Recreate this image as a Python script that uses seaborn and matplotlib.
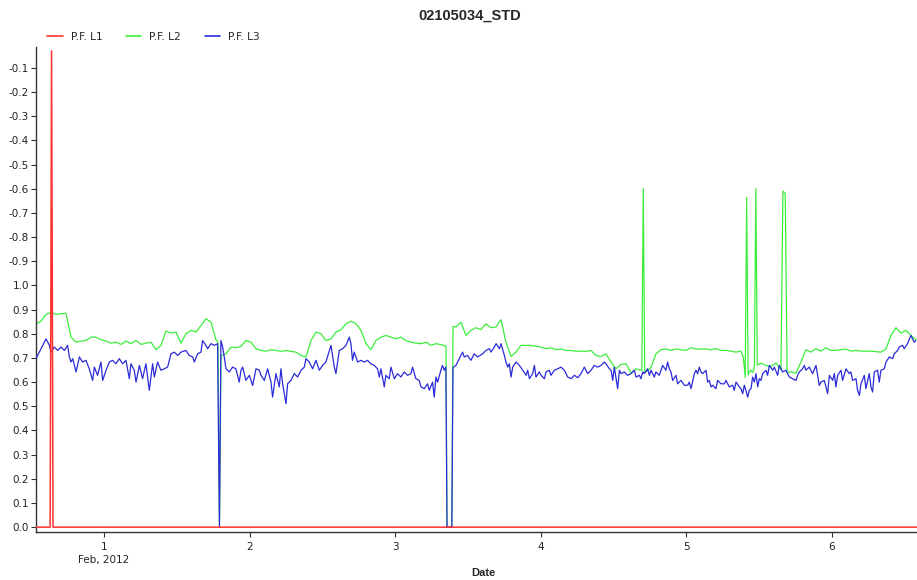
import numpy as np
import pandas as pd
import matplotlib
matplotlib.use("Agg")
import matplotlib.pyplot as plt
import seaborn as sns
from matplotlib.lines import Line2D

nan = np.nan

# ---------------- data ----------------
title = "02105034_STD"
series_names = ["P.F. L1", "P.F. L2", "P.F. L3"]
series_colors = ["#ff3030", "#3cee3c", "#2b2bd9"]

# L2: regular sampling grid (days of Feb 2012) plus irregular events
grid_start = 0.533
grid_step = 0.03434

l2_grid = [
    0.841, 0.852, 0.880, 0.889, 0.880, 0.883, 0.885, 0.786, 0.765, 0.770,
    0.772, 0.786, 0.786, 0.775, 0.770, 0.761, 0.765, 0.756, 0.770, 0.759,
    0.772, 0.756, 0.761, 0.765, 0.734, 0.752, 0.811, 0.803, 0.807, 0.761,
    0.800, 0.814, 0.807, 0.834, 0.862, 0.848, 0.775, 0.710, 0.717, 0.745,
    0.742, 0.748, 0.772, 0.765, 0.738, 0.731, 0.728, 0.734, 0.731, 0.727,
    0.731, 0.727, 0.724, 0.710, 0.704, 0.772, 0.807, 0.800, 0.772, 0.779,
    0.807, 0.817, 0.841, 0.852, 0.841, 0.814, 0.759, 0.734, 0.772, 0.786,
    0.793, 0.786, 0.779, 0.786, 0.772, 0.765, 0.761, 0.759, 0.765, 0.752,
    0.759, 0.755, 0.748, nan, 0.828, 0.848, 0.793, 0.814, 0.825, 0.817,
    0.841, 0.825, 0.828, 0.858, 0.765, 0.706, 0.724, 0.752, 0.752, 0.752,
    0.748, 0.745, 0.738, 0.742, 0.734, 0.737, 0.731, 0.731, 0.728, 0.728,
    0.727, 0.731, 0.710, 0.706, 0.717, 0.683, 0.655, 0.673, 0.676, 0.638,
    0.655, 0.649, 0.642, 0.660, 0.717, 0.734, 0.737, 0.731, 0.737, 0.734,
    0.731, 0.742, 0.737, 0.737, 0.737, 0.734, 0.739, 0.731, 0.731, 0.728,
    0.724, 0.728, nan, nan, nan, 0.679, 0.669, 0.665, 0.679, 0.651,
    nan, 0.642, 0.637, 0.683, 0.734, 0.724, 0.738, 0.728, 0.742, 0.731,
    0.731, 0.734, 0.737, 0.728, 0.731, 0.728, 0.728, 0.728, 0.726, 0.724,
    0.737, 0.793, 0.825, 0.803, 0.814, 0.793, 0.775,
]

l2_event_days = [1.783, 1.793, 3.356, 3.389, 3.397,
                 4.694, 4.704, 4.714,
                 5.392, 5.404, 5.414, 5.424, 5.440, 5.455, 5.467, 5.477, 5.487,
                 5.663, 5.679, 5.692]
l2_event_vals = [0.765, 0.0, 0.0, 0.0, 0.830,
                 0.648, 1.400, 0.640,
                 0.700, 0.620, 1.364, 0.630, 0.650, 0.640, 0.660, 1.400, 0.670,
                 1.390, 1.380, 0.640]

# L3: irregular readings
l3_days = [
    0.533, 0.602, 0.625, 0.636, 0.659, 0.682, 0.705, 0.728, 0.750, 0.762,
    0.773, 0.785, 0.808, 0.831, 0.853, 0.876, 0.899, 0.922, 0.934, 0.956,
    0.979, 0.991, 1.014, 1.037, 1.059, 1.082, 1.105, 1.128, 1.151, 1.174,
    1.185, 1.208, 1.220, 1.243, 1.265, 1.288, 1.311, 1.334, 1.346, 1.368,
    1.391, 1.414, 1.437, 1.460, 1.483, 1.506, 1.529,
    1.563, 1.586, 1.609, 1.620, 1.643, 1.666, 1.677, 1.700, 1.712, 1.735,
    1.758, 1.780, 1.793, 1.803, 1.815, 1.826, 1.838, 1.861, 1.883, 1.906,
    1.929, 1.941, 1.952, 1.975, 1.998, 2.021, 2.044, 2.067, 2.078, 2.101,
    2.124, 2.147, 2.158, 2.181, 2.204, 2.215, 2.227, 2.250, 2.261, 2.284,
    2.307, 2.330, 2.353, 2.376, 2.387, 2.410, 2.433, 2.456, 2.479, 2.501,
    2.524, 2.559, 2.582, 2.593,
    2.616, 2.639, 2.662, 2.685, 2.696, 2.707, 2.719, 2.742, 2.765, 2.788,
    2.810, 2.833, 2.856, 2.879, 2.891, 2.902, 2.925, 2.936, 2.959, 2.971,
    2.994, 3.016, 3.039, 3.062, 3.085, 3.108, 3.119, 3.142, 3.165, 3.177,
    3.200, 3.222, 3.234, 3.257, 3.268, 3.280, 3.291, 3.314, 3.325, 3.337,
    3.348, 3.356, 3.389, 3.397, 3.417, 3.440, 3.463, 3.474, 3.497, 3.520,
    3.543, 3.566, 3.600, 3.623,
    3.647, 3.658, 3.681, 3.693, 3.716, 3.727, 3.750, 3.761, 3.773, 3.784,
    3.796, 3.807, 3.830, 3.853, 3.876, 3.899, 3.910, 3.922, 3.944, 3.956,
    3.967, 3.990, 4.002, 4.025, 4.036, 4.059, 4.070, 4.093, 4.116, 4.139,
    4.162, 4.185, 4.208, 4.231, 4.254, 4.276, 4.299, 4.322, 4.345, 4.368,
    4.391, 4.414, 4.437, 4.448, 4.471, 4.483, 4.494, 4.505, 4.528, 4.540,
    4.551, 4.574, 4.597, 4.620, 4.643,
    4.654, 4.677, 4.688, 4.700, 4.711, 4.734, 4.746, 4.757, 4.768, 4.780,
    4.791, 4.814, 4.837, 4.860, 4.871, 4.883, 4.894, 4.906, 4.929, 4.940,
    4.963, 4.986, 5.009, 5.020, 5.032, 5.055, 5.066, 5.077, 5.089, 5.100,
    5.112, 5.135, 5.146, 5.158, 5.169, 5.180, 5.203, 5.215, 5.238, 5.261,
    5.272, 5.295, 5.318, 5.329, 5.341, 5.364, 5.375, 5.387, 5.398, 5.409,
    5.421, 5.432, 5.444, 5.455, 5.467, 5.478, 5.490, 5.501, 5.512, 5.524,
    5.547, 5.558, 5.570, 5.593, 5.604, 5.627, 5.638, 5.661, 5.684,
    5.707, 5.730, 5.753, 5.764, 5.776, 5.798, 5.810, 5.821, 5.844, 5.867,
    5.890, 5.913, 5.924, 5.947, 5.959, 5.970, 5.982, 6.005, 6.016, 6.027,
    6.039, 6.062, 6.073, 6.096, 6.119, 6.130, 6.142, 6.165, 6.176, 6.188,
    6.199, 6.222, 6.233, 6.256, 6.268, 6.279, 6.291, 6.313, 6.325, 6.336,
    6.359, 6.371, 6.394, 6.417, 6.428, 6.451, 6.462, 6.485, 6.496, 6.519,
    6.542, 6.565, 6.576,
]
l3_vals = [
    0.697, 0.779, 0.752, 0.724, 0.745, 0.731, 0.745, 0.731, 0.752, 0.704,
    0.683, 0.697, 0.642, 0.704, 0.683, 0.690, 0.655, 0.607, 0.662, 0.628,
    0.683, 0.607, 0.649, 0.683, 0.690, 0.676, 0.697, 0.676, 0.690, 0.614,
    0.676, 0.649, 0.600, 0.669, 0.614, 0.676, 0.566, 0.676, 0.621, 0.683,
    0.649, 0.655, 0.662, 0.717, 0.724, 0.710, 0.724,
    0.731, 0.710, 0.704, 0.683, 0.717, 0.724, 0.772, 0.752, 0.738, 0.759,
    0.752, 0.759, 0.000, 0.772, 0.745, 0.704, 0.655, 0.642, 0.662, 0.655,
    0.600, 0.649, 0.662, 0.607, 0.628, 0.586, 0.655, 0.649, 0.628, 0.607,
    0.655, 0.600, 0.538, 0.635, 0.580, 0.655, 0.593, 0.511, 0.593, 0.607,
    0.635, 0.621, 0.649, 0.662, 0.697, 0.683, 0.655, 0.690, 0.649, 0.669,
    0.683, 0.752, 0.662, 0.635,
    0.731, 0.738, 0.752, 0.786, 0.759, 0.690, 0.724, 0.683, 0.690, 0.683,
    0.690, 0.676, 0.669, 0.655, 0.621, 0.655, 0.580, 0.628, 0.614, 0.662,
    0.614, 0.635, 0.621, 0.642, 0.628, 0.635, 0.662, 0.614, 0.607, 0.580,
    0.573, 0.593, 0.566, 0.600, 0.538, 0.621, 0.600, 0.649, 0.669, 0.649,
    0.662, 0.000, 0.000, 0.660, 0.669, 0.697, 0.724, 0.704, 0.710, 0.690,
    0.717, 0.704, 0.717, 0.731,
    0.738, 0.724, 0.745, 0.759, 0.738, 0.759, 0.710, 0.683, 0.662, 0.676,
    0.621, 0.662, 0.683, 0.669, 0.649, 0.628, 0.649, 0.614, 0.635, 0.669,
    0.621, 0.642, 0.628, 0.614, 0.642, 0.649, 0.628, 0.649, 0.655, 0.662,
    0.649, 0.621, 0.614, 0.628, 0.618, 0.635, 0.662, 0.635, 0.649, 0.669,
    0.662, 0.669, 0.683, 0.676, 0.655, 0.649, 0.607, 0.662, 0.573, 0.649,
    0.635, 0.642, 0.628, 0.635, 0.649,
    0.621, 0.628, 0.614, 0.642, 0.635, 0.655, 0.628, 0.649, 0.635, 0.621,
    0.642, 0.628, 0.669, 0.649, 0.683, 0.655, 0.642, 0.607, 0.628, 0.593,
    0.607, 0.587, 0.587, 0.600, 0.573, 0.635, 0.649, 0.635, 0.662, 0.642,
    0.635, 0.649, 0.600, 0.607, 0.580, 0.587, 0.573, 0.607, 0.593, 0.593,
    0.607, 0.580, 0.587, 0.566, 0.600, 0.580, 0.573, 0.552, 0.587, 0.566,
    0.538, 0.566, 0.573, 0.621, 0.600, 0.635, 0.580, 0.614, 0.607, 0.635,
    0.649, 0.628, 0.669, 0.649, 0.662, 0.628, 0.669, 0.642, 0.649,
    0.621, 0.614, 0.607, 0.628, 0.642, 0.655, 0.669, 0.649, 0.662, 0.635,
    0.669, 0.586, 0.600, 0.607, 0.580, 0.552, 0.628, 0.607, 0.635, 0.580,
    0.628, 0.649, 0.607, 0.655, 0.635, 0.642, 0.607, 0.614, 0.566, 0.545,
    0.593, 0.628, 0.573, 0.635, 0.580, 0.559, 0.642, 0.649, 0.600, 0.649,
    0.655, 0.683, 0.704, 0.697, 0.717, 0.731, 0.745, 0.752, 0.738, 0.759,
    0.793, 0.765, 0.772,
]

l1_days = [0.533, 0.630, 0.640, 0.650, 6.584]
l1_vals = [0.0, 0.0, 1.970, 0.0, 0.0]

y_tick_values = [round(0.1 * i, 1) for i in range(20)]
y_tick_labels = ["0.0", "0.1", "0.2", "0.3", "0.4", "0.5", "0.6", "0.7", "0.8",
                 "0.9", "1.0", "-0.9", "-0.8", "-0.7", "-0.6", "-0.5", "-0.4",
                 "-0.3", "-0.2", "-0.1"]
x_tick_values = [1, 2, 3, 4, 5, 6]
x_tick_labels = ["1\nFeb, 2012", "2", "3", "4", "5", "6"]
x_label = "Date"


def build_grid(grid, ev_days, ev_vals):
    d = grid_start + grid_step * np.arange(len(grid))
    v = np.asarray(grid, dtype=float)
    m = ~np.isnan(v)
    days = np.concatenate([d[m], np.asarray(ev_days, float)])
    vals = np.concatenate([v[m], np.asarray(ev_vals, float)])
    order = np.argsort(days, kind="stable")
    return pd.DataFrame({"day": days[order], "pf": vals[order]})


n3 = min(len(l3_days), len(l3_vals))
df1 = pd.DataFrame({"day": l1_days, "pf": l1_vals})
df2 = build_grid(l2_grid, l2_event_days, l2_event_vals)
df3 = pd.DataFrame({"day": l3_days[:n3], "pf": l3_vals[:n3]}).sort_values("day")

# ---------------- plot ----------------
sns.set_theme(style="ticks")
plt.rcParams["font.family"] = ["DejaVu Sans"]

fig = plt.figure(figsize=(9.17, 5.80), dpi=100)
ax = fig.add_axes([36 / 917, 48 / 580, 881 / 917, 485 / 580])

lw = 0.9
sns.lineplot(data=df2, x="day", y="pf", color=series_colors[1], linewidth=lw,
             estimator=None, sort=False, ax=ax, zorder=2)
sns.lineplot(data=df3, x="day", y="pf", color=series_colors[2], linewidth=lw,
             estimator=None, sort=False, ax=ax, zorder=3)
sns.lineplot(data=df1, x="day", y="pf", color=series_colors[0], linewidth=1.1,
             estimator=None, sort=False, ax=ax, zorder=4)

ax.set_xlim(0.533, 6.584)
ax.set_ylim(-0.02, 1.986)
ax.set_yticks(y_tick_values)
ax.set_yticklabels(y_tick_labels)
ax.set_xticks(x_tick_values)
ax.set_xticklabels(x_tick_labels, linespacing=1.3)
ax.set_xlabel("")
ax.set_ylabel("")

for s in ["top", "right"]:
    ax.spines[s].set_visible(False)
for s in ["left", "bottom"]:
    ax.spines[s].set_color("#333333")
    ax.spines[s].set_linewidth(1.0)
ax.tick_params(axis="both", colors="#333333", labelcolor="#222222",
               labelsize=7.5, length=3.5, width=0.8, direction="out")
ax.tick_params(axis="y", pad=1.5)
ax.tick_params(axis="x", pad=4)
ax.grid(False)

fig.text(469.5 / 917, 1 - 16 / 580, title, ha="center", va="center",
         fontsize=10.5, fontweight="bold", family=["Liberation Sans", "DejaVu Sans"])
fig.text(483 / 917, 1 - 573 / 580, x_label, ha="center", va="center",
         fontsize=8, fontweight="bold", family=["Liberation Sans", "DejaVu Sans"])

handles = [Line2D([0], [0], color=c, lw=1.2) for c in series_colors]
fig.legend(handles, series_names, loc="center left",
           bbox_to_anchor=(47 / 917, 1 - 37 / 580), ncol=3, frameon=False,
           fontsize=7.7, handlelength=1.45, handletextpad=0.75,
           columnspacing=2.2, borderpad=0, borderaxespad=0)

fig.savefig("out.png", dpi=100)
